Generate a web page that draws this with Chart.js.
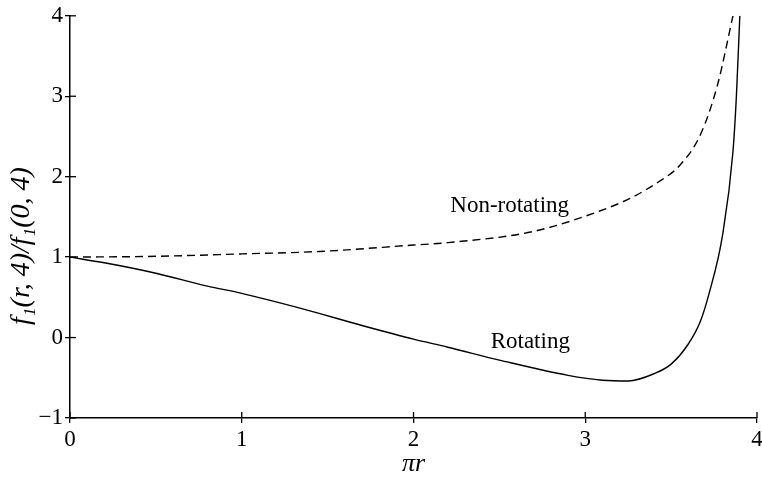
<!DOCTYPE html>
<html>
<head>
<meta charset="utf-8">
<script src="https://cdn.jsdelivr.net/npm/chart.js@4"></script>
<style>
  html, body { margin: 0; padding: 0; background: #fff; }
  #wrap { width: 762px; height: 484px; }
</style>
</head>
<body>
<div id="wrap"><canvas id="fChart" width="762" height="484"></canvas></div>
<script>
// values (x = pi*r)
const rotX = [0, 0.2, 0.5, 0.8, 1.0, 1.35, 1.7, 2.0, 2.2, 2.5, 2.9, 3.1, 3.25, 3.4, 3.5, 3.6, 3.67, 3.72, 3.8, 3.86, 3.88, 3.9];
const rotY = [1.0, 0.93, 0.80, 0.64, 0.55, 0.36, 0.15, -0.02, -0.12, -0.28, -0.47, -0.53, -0.54, -0.45, -0.33, -0.08, 0.2, 0.54, 1.28, 2.31, 3.0, 4.0];
const nonX = [0, 0.5, 1.0, 1.45, 2.0, 2.2, 2.7, 3.08, 3.26, 3.43, 3.55, 3.67, 3.77, 3.86];
const nonY = [1.0, 1.01, 1.04, 1.07, 1.15, 1.18, 1.32, 1.57, 1.73, 1.94, 2.14, 2.52, 3.14, 4.0];
const xTicks = [0, 1, 2, 3, 4];
const yTicks = [-1, 0, 1, 2, 3, 4];
const curveLabels = [
  { text: 'Non-rotating', x: 2.56, y: 1.63 },
  { text: 'Rotating', x: 2.68, y: -0.06 }
];

const serif = '"Liberation Serif", "DejaVu Serif", serif';

function pts(xs, ys) {
  return xs.map((x, i) => ({ x: x, y: ys[i] }));
}

// inward tick marks, curve labels and the y axis title
const decor = {
  id: 'decor',
  afterDraw(chart) {
    const ctx = chart.ctx;
    const xs = chart.scales.x, ys = chart.scales.y;
    const area = chart.chartArea;
    ctx.save();
    ctx.strokeStyle = '#000';
    ctx.lineWidth = 1.3;
    xTicks.forEach(v => {
      const px = xs.getPixelForValue(v);
      ctx.beginPath();
      ctx.moveTo(px, area.bottom);
      ctx.lineTo(px, area.bottom - 6);
      ctx.stroke();
    });
    yTicks.forEach(v => {
      const py = ys.getPixelForValue(v);
      ctx.beginPath();
      ctx.moveTo(area.left, py);
      ctx.lineTo(area.left + 6, py);
      ctx.stroke();
    });

    ctx.fillStyle = '#000';
    ctx.font = '23px ' + serif;
    ctx.textAlign = 'center';
    ctx.textBaseline = 'middle';
    curveLabels.forEach(l => {
      ctx.fillText(l.text, xs.getPixelForValue(l.x), ys.getPixelForValue(l.y));
    });

    ctx.translate(22, 246);
    ctx.rotate(-Math.PI / 2);
    ctx.font = 'italic 28px ' + serif;
    ctx.fillText('f\u2081(r, 4)/f\u2081(0, 4)', 0, 0);
    ctx.restore();
  }
};

new Chart(document.getElementById('fChart').getContext('2d'), {
  type: 'line',
  data: {
    datasets: [{
      label: 'Rotating',
      data: pts(rotX, rotY),
      borderColor: '#000',
      borderWidth: 1.4,
      pointRadius: 0,
      cubicInterpolationMode: 'monotone',
      fill: false
    }, {
      label: 'Non-rotating',
      data: pts(nonX, nonY),
      borderColor: '#000',
      borderWidth: 1.4,
      borderDash: [8, 5],
      pointRadius: 0,
      cubicInterpolationMode: 'monotone',
      fill: false
    }]
  },
  options: {
    responsive: false,
    animation: false,
    layout: { padding: { top: 14, right: 0, left: 0, bottom: 0 } },
    plugins: {
      legend: { display: false },
      tooltip: { enabled: false }
    },
    scales: {
      x: {
        type: 'linear',
        min: 0,
        max: 4,
        afterFit: s => { s.height = 66; s.paddingRight = 5; },
        afterBuildTicks: s => { s.ticks = xTicks.map(v => ({ value: v })); },
        border: { color: '#000', width: 1.5 },
        grid: { drawOnChartArea: false, color: '#000', tickLength: 5, lineWidth: 1.3 },
        ticks: { color: '#000', font: { family: serif, size: 23 }, padding: 3 },
        title: {
          display: true,
          text: '\u03c0r',
          color: '#000',
          font: { family: serif, size: 26, style: 'italic' },
          padding: { top: 0 }
        }
      },
      y: {
        type: 'linear',
        min: -1,
        max: 4,
        afterFit: s => { s.width = 70; },
        afterBuildTicks: s => { s.ticks = yTicks.map(v => ({ value: v })); },
        border: { color: '#000', width: 1.5 },
        grid: { drawOnChartArea: false, color: '#000', tickLength: 5, lineWidth: 1.3 },
        ticks: {
          color: '#000',
          font: { family: serif, size: 23 },
          padding: 2,
          callback: v => String(v).replace('-', '\u2212')
        }
      }
    }
  },
  plugins: [decor]
});
</script>
</body>
</html>
